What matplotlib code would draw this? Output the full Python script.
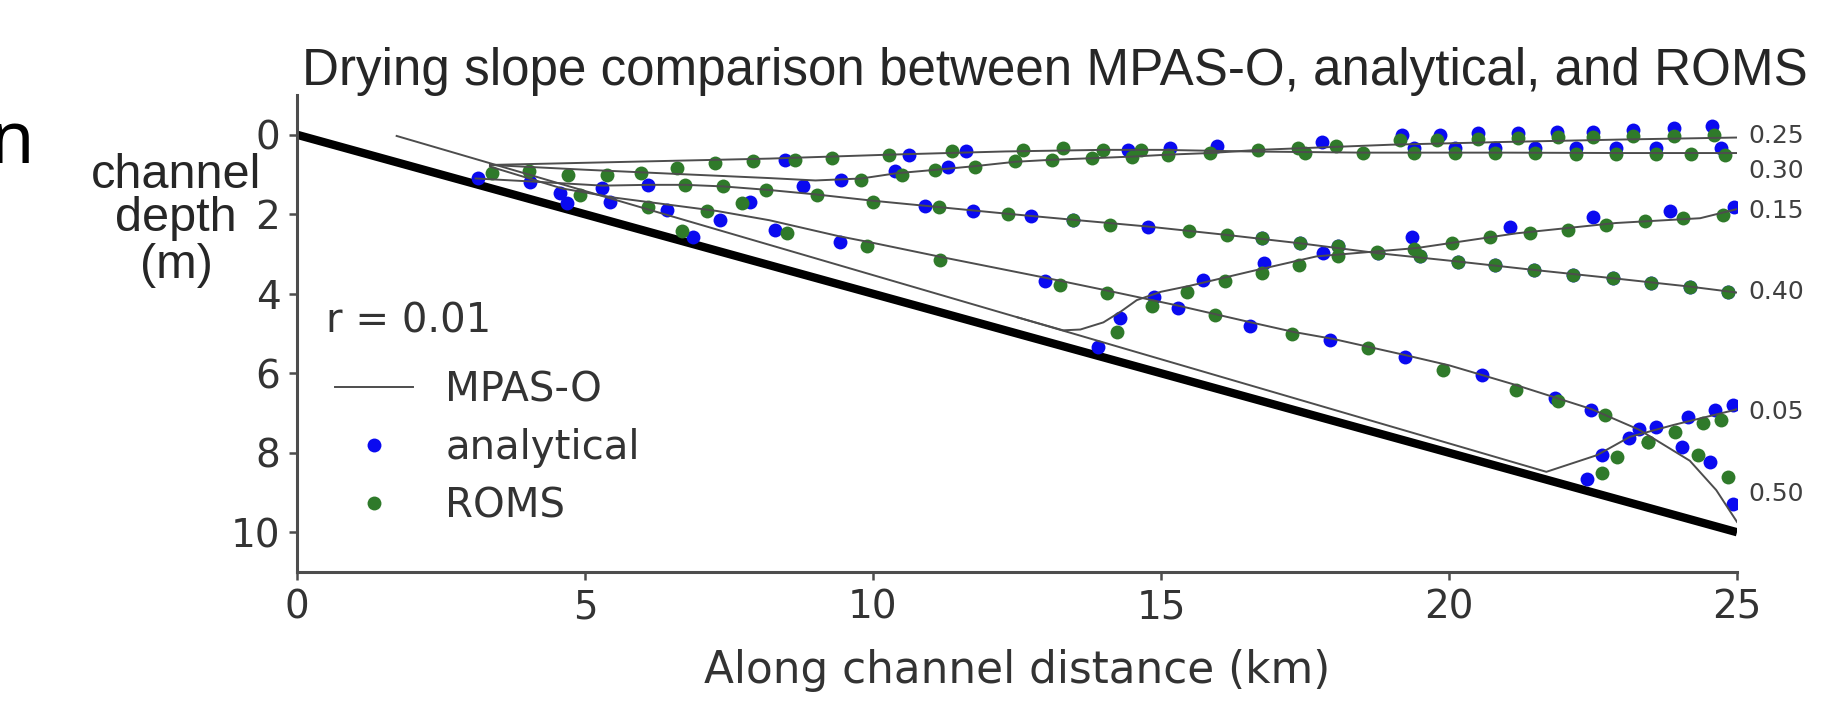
import matplotlib
matplotlib.use("Agg")
import matplotlib.pyplot as plt

# ---------------- data ----------------
bathy_x = [0.0, 25.0]
bathy_d = [0.0, 10.0]

# MPAS-O lines, one per time (days)
mpas_005_x = [1.73, 21.69, 22.57, 23.14, 23.90, 24.94, 25.0]
mpas_005_d = [0.03, 8.48, 8.06, 7.60, 7.30, 6.93, 6.90]
mpas_015_x = [12.50, 13.30, 13.60, 14.00, 14.30, 14.58, 15.00, 15.50, 16.55, 17.70, 19.44, 21.17, 22.90, 24.36, 25.0]
mpas_015_d = [4.59, 4.92, 4.90, 4.72, 4.45, 4.16, 3.95, 3.80, 3.44, 3.06, 2.85, 2.48, 2.22, 2.10, 1.87]
mpas_025_x = [3.35, 5.00, 6.50, 8.20, 9.00, 9.80, 10.40, 11.10, 11.77, 12.47, 13.10, 13.80, 14.49, 15.13, 15.85, 16.70, 19.00, 21.00, 23.00, 25.0]
mpas_025_d = [0.76, 0.88, 0.98, 1.09, 1.15, 1.10, 0.97, 0.88, 0.79, 0.68, 0.63, 0.59, 0.55, 0.50, 0.46, 0.38, 0.25, 0.18, 0.12, 0.07]
mpas_030_x = [3.35, 8.20, 10.30, 12.30, 14.00, 15.00, 16.50, 18.50, 21.00, 23.00, 25.0]
mpas_030_d = [0.76, 0.60, 0.50, 0.42, 0.38, 0.38, 0.42, 0.45, 0.45, 0.46, 0.46]
mpas_040_x = [3.10, 4.00, 5.30, 6.10, 6.74, 7.40, 8.20, 9.00, 10.00, 11.14, 12.35, 13.48, 14.78, 16.14, 17.41, 18.77, 20.16, 21.47, 22.85, 24.18, 25.0]
mpas_040_d = [1.10, 1.17, 1.28, 1.26, 1.26, 1.30, 1.39, 1.50, 1.66, 1.82, 1.99, 2.14, 2.31, 2.52, 2.73, 2.98, 3.19, 3.40, 3.61, 3.82, 3.97]
mpas_050_x = [3.35, 4.60, 5.50, 6.40, 7.30, 8.20, 9.40, 10.00, 11.20, 13.00, 14.00, 15.30, 16.50, 17.30, 18.00, 19.20, 20.00, 21.17, 22.47, 23.30, 24.18, 24.64, 25.0]
mpas_050_d = [0.80, 1.35, 1.58, 1.75, 1.92, 2.15, 2.55, 2.72, 3.08, 3.60, 3.90, 4.30, 4.70, 4.96, 5.14, 5.53, 5.80, 6.30, 6.90, 7.42, 8.20, 8.94, 9.74]

# analytical solution points
ana_005_x = [22.39, 22.65, 23.12, 23.60, 24.15, 24.62, 24.93]
ana_005_d = [8.65, 8.06, 7.64, 7.35, 7.10, 6.93, 6.80]
ana_015_x = [13.91, 14.29, 14.87, 15.73, 16.78, 17.82, 19.35, 21.06, 22.50, 23.84, 24.94]
ana_015_d = [5.33, 4.62, 4.07, 3.65, 3.23, 2.98, 2.56, 2.31, 2.06, 1.93, 1.81]
ana_025_x = [8.79, 9.45, 10.38, 11.31, 17.79, 19.18, 19.84, 20.51, 21.20, 21.87, 22.50, 23.20, 23.90, 24.56]
ana_025_d = [1.30, 1.13, 0.92, 0.80, 0.17, 0.00, 0.00, -0.04, -0.04, -0.06, -0.08, -0.13, -0.17, -0.21]
ana_030_x = [8.47, 10.63, 11.62, 14.43, 15.16, 15.97, 19.40, 20.10, 20.80, 21.50, 22.20, 22.90, 23.60, 24.73]
ana_030_d = [0.63, 0.50, 0.42, 0.38, 0.34, 0.28, 0.33, 0.33, 0.33, 0.33, 0.34, 0.34, 0.34, 0.34]
ana_040_x = [3.15, 4.05, 5.29, 6.10, 7.86, 10.90, 11.74, 12.75, 13.48, 14.78, 16.75, 17.41, 18.08, 18.77, 19.50, 20.16, 20.80, 21.47, 22.16, 22.85, 23.50, 24.18, 24.85]
ana_040_d = [1.08, 1.18, 1.34, 1.26, 1.68, 1.80, 1.91, 2.04, 2.14, 2.31, 2.60, 2.73, 2.81, 2.98, 3.06, 3.19, 3.27, 3.40, 3.53, 3.61, 3.74, 3.82, 3.95]
ana_050_x = [4.57, 4.68, 5.43, 6.42, 6.88, 7.34, 8.30, 9.43, 12.99, 15.30, 16.55, 17.93, 19.24, 20.57, 21.84, 22.47, 23.29, 24.04, 24.53, 24.93]
ana_050_d = [1.47, 1.72, 1.68, 1.89, 2.56, 2.14, 2.39, 2.69, 3.69, 4.37, 4.80, 5.16, 5.58, 6.05, 6.63, 6.93, 7.39, 7.85, 8.23, 9.28]

# ROMS points
roms_005_x = [22.65, 22.91, 23.46, 23.92, 24.41, 24.73]
roms_005_d = [8.52, 8.10, 7.72, 7.47, 7.26, 7.18]
roms_015_x = [14.23, 14.84, 15.45, 16.11, 16.75, 17.39, 18.08, 18.75, 19.40, 20.05, 20.71, 21.41, 22.07, 22.73, 23.40, 24.07, 24.76]
roms_015_d = [4.95, 4.32, 3.95, 3.69, 3.48, 3.27, 3.06, 2.95, 2.88, 2.73, 2.56, 2.48, 2.39, 2.27, 2.18, 2.10, 2.02]
roms_025_x = [9.02, 9.80, 10.50, 11.08, 11.77, 12.47, 13.10, 13.80, 14.49, 15.13, 15.85, 16.69, 17.38, 18.04, 19.15, 19.80, 20.50, 21.20, 21.90, 22.50, 23.20, 23.90, 24.60]
roms_025_d = [1.51, 1.13, 1.01, 0.88, 0.80, 0.67, 0.63, 0.59, 0.55, 0.50, 0.46, 0.38, 0.34, 0.29, 0.13, 0.12, 0.10, 0.08, 0.06, 0.06, 0.04, 0.02, 0.00]
roms_030_x = [4.02, 6.59, 7.26, 7.92, 8.65, 9.28, 10.27, 11.38, 12.61, 13.30, 14.00, 14.66, 17.50, 18.50, 19.40, 20.10, 20.80, 21.50, 22.20, 22.90, 23.60, 24.20, 24.80]
roms_030_d = [0.92, 0.84, 0.71, 0.67, 0.63, 0.59, 0.50, 0.42, 0.38, 0.34, 0.38, 0.38, 0.45, 0.45, 0.46, 0.46, 0.47, 0.47, 0.48, 0.48, 0.49, 0.49, 0.50]
roms_040_x = [3.38, 4.71, 5.38, 5.98, 6.74, 7.40, 8.15, 10.00, 11.14, 12.35, 13.48, 14.11, 15.48, 16.14, 16.75, 17.41, 18.08, 18.77, 19.50, 20.16, 20.80, 21.47, 22.16, 22.85, 23.50, 24.18, 24.85]
roms_040_d = [0.97, 1.01, 1.01, 0.97, 1.26, 1.30, 1.39, 1.68, 1.82, 1.99, 2.14, 2.27, 2.43, 2.52, 2.60, 2.73, 2.81, 2.98, 3.06, 3.19, 3.27, 3.40, 3.53, 3.61, 3.74, 3.82, 3.95]
roms_050_x = [4.91, 6.10, 6.68, 7.11, 7.72, 8.50, 9.89, 11.16, 13.25, 14.06, 15.94, 17.27, 18.60, 19.90, 21.17, 21.90, 22.70, 23.46, 24.33, 24.85]
roms_050_d = [1.51, 1.81, 2.43, 1.93, 1.72, 2.48, 2.81, 3.15, 3.78, 3.99, 4.53, 5.00, 5.37, 5.92, 6.42, 6.70, 7.05, 7.72, 8.06, 8.61]

time_labels = ["0.25", "0.30", "0.15", "0.40", "0.05", "0.50"]
time_label_d = [0.02, 0.92, 1.93, 3.95, 6.97, 9.03]

x_ticks = [0, 5, 10, 15, 20, 25]
y_ticks = [0, 2, 4, 6, 8, 10]

ylabel_lines = ["channel", "depth", "(m)"]

# ---------------- figure ----------------
W, H = 1828, 707
fig = plt.figure(figsize=(W / 100, H / 100), dpi=100)
ax = fig.add_axes([297 / W, 1 - 572 / H, (1737 - 297) / W, (572 - 95) / H])

line_c = "0.3"
ax.plot(bathy_x, bathy_d, color="black", lw=6, solid_capstyle="butt", zorder=2)

mpas = [(mpas_005_x, mpas_005_d), (mpas_015_x, mpas_015_d), (mpas_025_x, mpas_025_d),
        (mpas_030_x, mpas_030_d), (mpas_040_x, mpas_040_d), (mpas_050_x, mpas_050_d)]
ana = [(ana_005_x, ana_005_d), (ana_015_x, ana_015_d), (ana_025_x, ana_025_d),
       (ana_030_x, ana_030_d), (ana_040_x, ana_040_d), (ana_050_x, ana_050_d)]
roms = [(roms_005_x, roms_005_d), (roms_015_x, roms_015_d), (roms_025_x, roms_025_d),
        (roms_030_x, roms_030_d), (roms_040_x, roms_040_d), (roms_050_x, roms_050_d)]

blue = "#0a0af0"
green = "#2f7a2a"
ms = 10
for i, (x, d) in enumerate(ana):
    ax.plot(x, d, "o", color=blue, ms=ms, mec="none", zorder=3,
            label="analytical" if i == 0 else None)
for i, (x, d) in enumerate(roms):
    ax.plot(x, d, "o", color=green, ms=ms, mec="none", zorder=4,
            label="ROMS" if i == 0 else None)
for i, (x, d) in enumerate(mpas):
    ax.plot(x, d, "-", color=line_c, lw=1.4, zorder=5,
            label="MPAS-O" if i == 0 else None)

for lab, d in zip(time_labels, time_label_d):
    ax.text(25.2, d, lab, fontsize=18, color="0.25", va="center", ha="left",
            family="DejaVu Sans", clip_on=False)

ax.set_xlim(0, 25)
ax.set_ylim(11, -1)
ax.set_xticks(x_ticks)
ax.set_yticks(y_ticks)
for s in ["top", "right"]:
    ax.spines[s].set_visible(False)
for s in ["left", "bottom"]:
    ax.spines[s].set_linewidth(2.2)
    ax.spines[s].set_color("0.3")
ax.tick_params(labelsize=28, length=6, width=1.8, color="0.3", labelcolor="0.2", pad=6)

ax.set_xlabel("Along channel distance (km)", fontsize=31.5, color="0.2", labelpad=16)

ax.text(0.5, 4.7, "r = 0.01", fontsize=29, color="0.2", va="center", ha="left")

handles, labels = ax.get_legend_handles_labels()
order = [labels.index("MPAS-O"), labels.index("analytical"), labels.index("ROMS")]
leg = ax.legend([handles[k] for k in order], [labels[k] for k in order],
                loc="upper left", bbox_to_anchor=(0.015, 0.457), frameon=False,
                fontsize=29, handlelength=1.95, labelspacing=0.45, handletextpad=0.8,
                borderaxespad=0)
for t in leg.get_texts():
    t.set_color("0.2")

fig.text(1055 / W, 1 - 72 / H, "Drying slope comparison between MPAS-O, analytical, and ROMS",
         fontsize=36.8, family="Liberation Sans", color="0.15", ha="center", va="center")

# multi-line y label, one text per line (centred column left of the tick labels)
ylab_y_px = [176, 219, 266]
for txt, ypx in zip(ylabel_lines, ylab_y_px):
    fig.text(176 / W, 1 - ypx / H, txt, fontsize=35, family="Liberation Sans",
             color="0.15", ha="center", va="center")

fig.text(34 / W, 1 - 163 / H, "n", fontsize=52, family="Noto Sans", color="black",
         ha="right", va="baseline")

fig.savefig("out.png", dpi=100)
